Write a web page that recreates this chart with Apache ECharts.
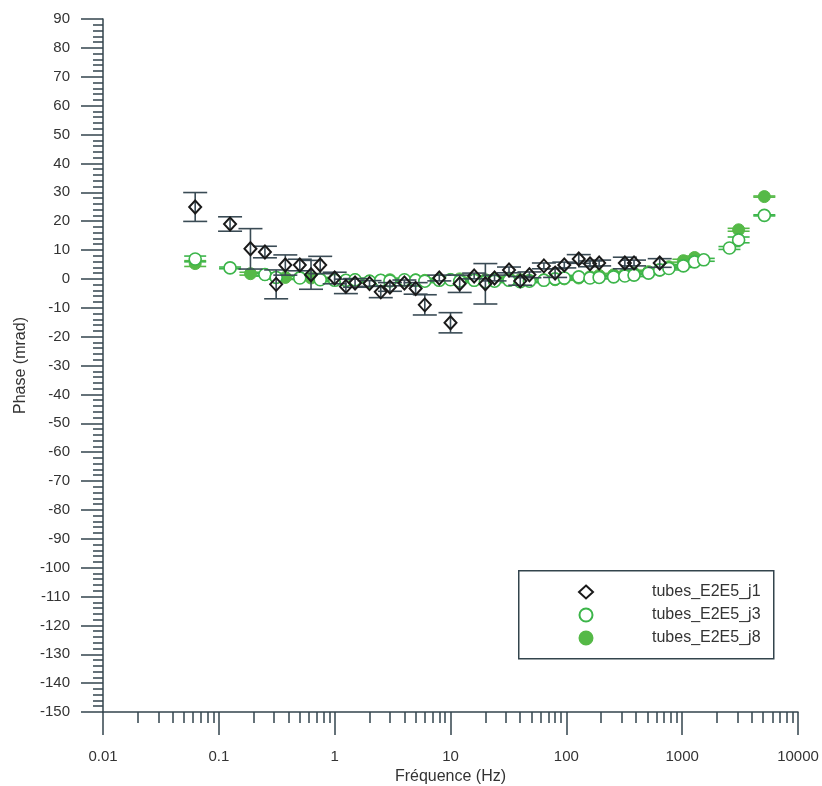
<!DOCTYPE html>
<html>
<head>
<meta charset="utf-8">
<script src="https://cdn.jsdelivr.net/npm/echarts@6/dist/echarts.min.js"></script>
<style>html,body{margin:0;padding:0;background:#fff}#c{width:822px;height:786px}</style>
</head>
<body>
<div id="c"></div>
<script>
// ---- data ----
const freqJ1 = [0.0625,0.125,0.1875,0.25,0.3125,0.375,0.5,0.625,0.75,1,1.25,1.5,2,2.5,3,4,5,6,8,10,12,16,20,24,32,40,48,64,80,96,128,160,192,320,384,640];
const phaseJ1 = [24.9,19,10.4,9.3,-1.9,4.8,4.8,1.4,4.8,0.3,-2.6,-1.4,-1.6,-4.5,-2.8,-1.4,-3.3,-9,0.3,-15.2,-1.7,1,-1.7,0.3,3.1,-0.7,1.4,4.5,2,4.8,6.9,5.2,5.5,5.5,5.5,5.5];
const errJ1 = [5,2.5,7,2,5,3.5,2,5,3,2,2.5,1.5,1,2,1.5,1,2,3.5,1,3.5,3,1,7,1,1,1.5,1,1,1.5,1,1.5,1,1,2,1,1.5];

const freqJ3 = [0.0625,0.125,0.25,0.3125,0.5,0.75,1,1.25,1.5,2,2.5,3,4,5,6,8,10,12,16,20,24,32,40,48,64,80,96,128,160,192,256,320,384,512,640,768,1024,1280,1536,2560,3072,5120];
const phaseJ3 = [6.9,3.8,1.5,0.5,0.3,-0.3,-0.5,-0.5,-0.3,-0.8,-0.5,-0.7,-0.3,-0.5,-0.8,-0.5,-0.3,-0.8,-0.5,-1,-0.8,-0.5,-1,-0.8,-0.5,0,0.3,0.7,0.3,0.5,0.7,1,1.3,2,3.1,3.6,4.5,5.9,6.6,10.7,13.5,22];
const errJ3 = [1,0.3,0.5,0.5,0.5,0.5,0.5,0.5,0.5,0.5,0.5,0.5,0.5,0.5,0.5,0.5,0.5,0.5,0.5,0.5,0.5,0.5,0.5,0.5,0.5,0.5,0.5,0.5,0.5,0.5,0.5,0.5,0.5,0.5,0.5,0.5,0.5,0.5,0.5,0.5,1,0.2];

const freqJ8 = [0.0625,0.1875,0.25,0.3125,0.375,0.5,0.625,0.75,1,1.25,1.5,2,2.5,3,4,5,6,8,10,12,16,20,24,32,40,48,64,80,96,128,160,192,256,320,384,512,640,768,1024,1280,3072,5120];
const phaseJ8 = [5.3,1.8,1.5,0.5,0.5,0.5,0.3,0,-0.2,-0.5,-0.3,-0.7,-0.5,-0.3,-0.5,-0.3,-0.5,-0.3,-0.2,0,-0.5,-0.3,0,0.3,-0.3,-0.5,-0.3,-0.3,0,0.3,0.7,1.2,1.4,1.7,2,2.5,3,4.2,6.3,7.4,17,28.5];
const errJ8 = [1,0.5,0.5,0.5,0.5,0.5,0.5,0.5,0.5,0.5,0.5,0.5,0.5,0.5,0.5,0.5,0.5,0.5,0.5,0.5,0.5,0.5,0.5,0.5,0.5,0.5,0.5,0.5,0.5,0.5,0.5,0.5,0.5,0.5,0.5,0.5,0.5,0.5,0.5,0.5,0.5,0.2];

const xMajorTicks = [0.01,0.1,1,10,100,1000,10000];
const xMinorTicks = [];
[0.01,0.1,1,10,100,1000].forEach(d => { for (let k = 2; k <= 9; k++) xMinorTicks.push(+(d*k).toPrecision(6)); });

const names = ['tubes_E2E5_j1','tubes_E2E5_j3','tubes_E2E5_j8'];
const AXIS = '#33444d';
const BLACK = '#1a1a1a';
const GREEN_LINE = '#3cb54a';
const GREEN_FILL = '#55b947';
const ERR_J1 = '#3a4b55';

function pts(f, v) { return f.map((x, i) => [x, v[i]]); }
function errs(f, v, e) { return f.map((x, i) => [x, v[i] - e[i], v[i] + e[i]]); }

function errSeries(data, color, halfW, z) {
  return {
    type: 'custom', xAxisIndex: 0, yAxisIndex: 0, z: z, silent: true,
    encode: { x: 0, y: [1, 2] },
    data: data,
    renderItem: function (params, api) {
      const x = api.value(0), lo = api.value(1), hi = api.value(2);
      const a = api.coord([x, lo]), b = api.coord([x, hi]);
      const st = { stroke: color, lineWidth: 1.6 };
      return { type: 'group', children: [
        { type: 'line', shape: { x1: a[0], y1: a[1], x2: b[0], y2: b[1] }, style: st },
        { type: 'line', shape: { x1: a[0]-halfW, y1: a[1], x2: a[0]+halfW, y2: a[1] }, style: st },
        { type: 'line', shape: { x1: b[0]-halfW, y1: b[1], x2: b[0]+halfW, y2: b[1] }, style: st }
      ]};
    }
  };
}

const chart = echarts.init(document.getElementById('c'));
const FONT = 'Liberation Sans';
chart.setOption({
  backgroundColor: '#fff',
  animation: false,
  textStyle: { fontFamily: FONT },
  grid: { left: 103, right: 24, top: 19, bottom: 74, containLabel: false, outerBoundsMode: 'none' },
  graphic: [{
    type: 'rect', left: 518, top: 570, z: 50,
    shape: { width: 255, height: 88 },
    style: { fill: '#fff', stroke: AXIS, lineWidth: 1.5 }
  }],
  legend: {
    orient: 'vertical', left: 578, top: 584, z: 60, padding: 0,
    itemWidth: 14, itemHeight: 13, itemGap: 7,
    data: names,
    textStyle: { fontSize: 16, color: '#333', fontFamily: FONT, padding: [0, 0, 0, 54] }
  },
  xAxis: [{
    type: 'log', logBase: 10, min: 0.01, max: 10000,
    name: 'Fréquence (Hz)', nameLocation: 'middle', nameGap: 53,
    nameTextStyle: { fontSize: 16, color: '#333', fontFamily: FONT },
    axisLine: { show: true, onZero: false, lineStyle: { color: AXIS, width: 1.5 } },
    axisTick: { show: true, length: 23, lineStyle: { color: AXIS, width: 1.5 }, customValues: xMajorTicks },
    axisLabel: { margin: 37, fontSize: 15, color: '#333', customValues: xMajorTicks,
      formatter: function (v) { return String(+v.toPrecision(6)); } },
    splitLine: { show: false }
  }, {
    type: 'log', logBase: 10, min: 0.01, max: 10000, position: 'bottom', gridIndex: 0,
    axisLine: { show: false, onZero: false },
    axisTick: { show: true, length: 11, lineStyle: { color: AXIS, width: 1.5 }, customValues: xMinorTicks },
    axisLabel: { show: false },
    splitLine: { show: false }
  }],
  yAxis: {
    type: 'value', min: -150, max: 90, interval: 10,
    name: 'Phase (mrad)', nameLocation: 'middle', nameGap: 73, nameRotate: 90,
    nameTextStyle: { fontSize: 16, color: '#333', fontFamily: FONT },
    axisLine: { show: true, onZero: false, lineStyle: { color: AXIS, width: 1.5 } },
    axisTick: { show: true, length: 22, lineStyle: { color: AXIS, width: 1.5 } },
    minorTick: { show: true, splitNumber: 5, length: 10, lineStyle: { color: AXIS, width: 1.5 } },
    axisLabel: { margin: 33, fontSize: 15, color: '#333' },
    splitLine: { show: false }
  },
  series: [
    errSeries(errs(freqJ8, phaseJ8, errJ8), GREEN_FILL, 11, 2),
    errSeries(errs(freqJ3, phaseJ3, errJ3), GREEN_LINE, 11, 2),
    { name: names[2], type: 'scatter', z: 3, symbol: 'circle', symbolSize: 12,
      itemStyle: { color: GREEN_FILL, borderColor: GREEN_FILL, borderWidth: 1, opacity: 1 },
      data: pts(freqJ8, phaseJ8) },
    { name: names[1], type: 'scatter', z: 4, symbol: 'circle', symbolSize: 12,
      itemStyle: { color: '#fff', borderColor: GREEN_LINE, borderWidth: 1.6, opacity: 1 },
      data: pts(freqJ3, phaseJ3) },
    errSeries(errs(freqJ1, phaseJ1, errJ1), ERR_J1, 12, 5),
    { name: names[0], type: 'scatter', z: 6, symbol: 'diamond', symbolSize: [12, 13],
      itemStyle: { color: 'rgba(255,255,255,0)', borderColor: BLACK, borderWidth: 2, opacity: 1 },
      data: pts(freqJ1, phaseJ1) }
  ]
});
</script>
</body>
</html>
